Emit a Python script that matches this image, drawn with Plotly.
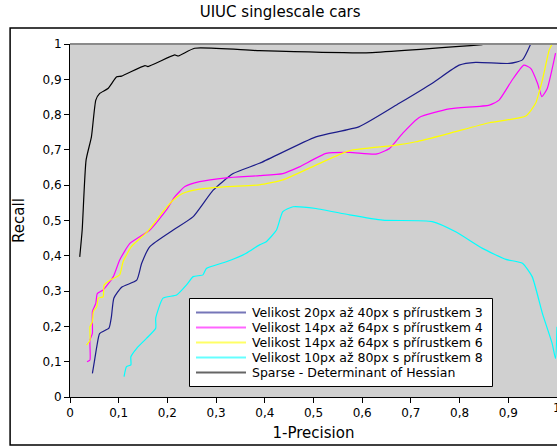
import plotly.graph_objects as go

# Precision-recall curves (x = 1-Precision, y = Recall)
names = [
    "Velikost 20px až 40px s přírustkem 3",
    "Velikost 14px až 64px s přírustkem 4",
    "Velikost 14px až 64px s přírustkem 6",
    "Velikost 10px až 80px s přírustkem 8",
    "Sparse - Determinant of Hessian",
]
colors = ["#1c1c8a", "#ff00ff", "#ffff00", "#00ffff", "#000000"]

blue_x = [0.046, 0.050, 0.055, 0.061, 0.080, 0.085, 0.090, 0.106, 0.137, 0.147,
          0.164, 0.212, 0.253, 0.294, 0.335, 0.389, 0.505, 0.594, 0.676, 0.744,
          0.799, 0.833, 0.902, 0.929, 0.946]
blue_y = [0.067, 0.100, 0.143, 0.180, 0.195, 0.227, 0.280, 0.311, 0.331, 0.378,
          0.426, 0.473, 0.511, 0.586, 0.633, 0.662, 0.737, 0.766, 0.832, 0.889,
          0.940, 0.948, 0.945, 0.955, 1.000]

magenta_x = [0.035, 0.041, 0.041, 0.046, 0.046, 0.053, 0.056, 0.068, 0.089, 0.102,
             0.123, 0.164, 0.198, 0.215, 0.236, 0.266, 0.321, 0.389, 0.437, 0.471,
             0.526, 0.574, 0.628, 0.656, 0.683, 0.717, 0.779, 0.861, 0.881, 0.908,
             0.932, 0.946, 0.960, 0.969, 0.980, 0.997]
magenta_y = [0.100, 0.105, 0.161, 0.180, 0.242, 0.265, 0.293, 0.303, 0.341, 0.388,
             0.435, 0.473, 0.530, 0.567, 0.596, 0.610, 0.621, 0.627, 0.633, 0.652,
             0.690, 0.693, 0.688, 0.704, 0.747, 0.792, 0.816, 0.827, 0.841, 0.898,
             0.940, 0.931, 0.889, 0.851, 0.874, 0.974]

yellow_x = [0.034, 0.041, 0.041, 0.046, 0.048, 0.055, 0.058, 0.068, 0.070, 0.082,
            0.102, 0.109, 0.126, 0.160, 0.191, 0.212, 0.232, 0.266, 0.321, 0.389,
            0.437, 0.505, 0.574, 0.662, 0.710, 0.779, 0.861, 0.936, 0.956, 0.970,
            0.984, 0.990]
yellow_y = [0.147, 0.161, 0.199, 0.213, 0.242, 0.256, 0.280, 0.284, 0.317, 0.331,
            0.346, 0.383, 0.426, 0.470, 0.525, 0.558, 0.577, 0.589, 0.596, 0.601,
            0.615, 0.657, 0.698, 0.712, 0.723, 0.747, 0.777, 0.796, 0.832, 0.898,
            0.983, 1.000]

cyan_x = [0.111, 0.116, 0.125, 0.125, 0.137, 0.157, 0.176, 0.176, 0.191, 0.219,
          0.239, 0.253, 0.273, 0.280, 0.321, 0.362, 0.389, 0.403, 0.424, 0.437,
          0.458, 0.505, 0.574, 0.642, 0.744, 0.792, 0.847, 0.895, 0.929, 0.949,
          0.970, 0.990, 0.997, 1.000]
cyan_y = [0.058, 0.086, 0.091, 0.114, 0.138, 0.166, 0.195, 0.223, 0.280, 0.289,
          0.317, 0.341, 0.346, 0.364, 0.383, 0.407, 0.431, 0.440, 0.473, 0.525,
          0.539, 0.534, 0.516, 0.501, 0.497, 0.468, 0.421, 0.390, 0.379, 0.341,
          0.237, 0.152, 0.109, 0.199]

black_x = [0.020, 0.025, 0.033, 0.044, 0.053, 0.061, 0.078, 0.096, 0.106, 0.154,
           0.160, 0.215, 0.222, 0.256, 0.389, 0.608, 0.847]
black_y = [0.397, 0.473, 0.671, 0.737, 0.841, 0.860, 0.874, 0.907, 0.909, 0.939,
           0.936, 0.969, 0.966, 0.988, 0.981, 0.975, 0.998]

series_x = [blue_x, magenta_x, yellow_x, cyan_x, black_x]
series_y = [blue_y, magenta_y, yellow_y, cyan_y, black_y]

x_ticks = [i / 10 for i in range(11)]
y_ticks = [i / 10 for i in range(11)]

FONT = "DejaVu Sans"

fig = go.Figure()
for name, color, xs, ys in zip(names, colors, series_x, series_y):
    fig.add_trace(go.Scatter(
        x=xs, y=ys, mode="lines", name=name, showlegend=False,
        line=dict(color=color, width=1.2, shape="spline", smoothing=0.5),
    ))

axis_common = dict(
    showgrid=False, zeroline=False,
    showline=True, linecolor="black", linewidth=1,
    ticks="outside", ticklen=5, tickcolor="black", tickwidth=1,
    tickfont=dict(family=FONT, size=12, color="black"),
)

fig.update_xaxes(range=[0, 1], tickvals=x_ticks,
                 title=dict(text="1-Precision", font=dict(family=FONT, size=15, color="black"), standoff=8),
                 **axis_common)
fig.update_yaxes(range=[0, 1], tickvals=y_ticks,
                 title=dict(text="Recall", font=dict(family=FONT, size=15, color="black"), standoff=14),
                 **axis_common)

# the last x tick label sits on the right edge of the canvas
fig.add_annotation(x=1, y=0, xref="x", yref="paper", yshift=-11, text="1", showarrow=False,
                   font=dict(family=FONT, size=12, color="black"), xanchor="center", yanchor="middle")

# top border of the plotting area and outer frame
fig.add_shape(type="line", xref="paper", yref="paper", x0=0, x1=1, y0=1, y1=1,
              line=dict(color="#8a8a8a", width=2))
fig.add_shape(type="rect", xref="paper", yref="paper", x0=-0.123, x1=1.2, y0=-0.136, y1=1.045,
              line=dict(color="black", width=1.5), fillcolor="rgba(0,0,0,0)")

# legend box drawn in paper coordinates
PW, PH, L, B = 487.0, 353.0, 70.0, 397.0
def px(xp):
    return (xp - L) / PW
def py(yp):
    return (B - yp) / PH

fig.add_shape(type="rect", xref="paper", yref="paper",
              x0=px(189.5), x1=px(492.5), y0=py(386.5), y1=py(298.5),
              line=dict(color="black", width=1), fillcolor="white")
row_y = [312.5, 327.5, 342.5, 357.5, 372.5]
for name, color, ry in zip(names, colors, row_y):
    fig.add_shape(type="line", xref="paper", yref="paper",
                  x0=px(196), x1=px(246), y0=py(ry), y1=py(ry),
                  line=dict(color=color, width=2), opacity=0.6)
    fig.add_annotation(x=px(250), y=py(ry), xref="paper", yref="paper", text=name,
                       showarrow=False, xanchor="left", yanchor="middle",
                       font=dict(family=FONT, size=12.5, color="black"))

fig.update_layout(
    width=557, height=446,
    margin=dict(l=70, r=0, t=44, b=49),
    paper_bgcolor="white", plot_bgcolor="#d0d0d0",
    separators=",.",
    font=dict(family=FONT, color="black"),
    title=dict(text="UIUC singlescale cars", x=0.503, xanchor="center", y=0.973, yanchor="middle",
               font=dict(family=FONT, size=15, color="black")),
    showlegend=False,
)

fig.write_html("out.html")
